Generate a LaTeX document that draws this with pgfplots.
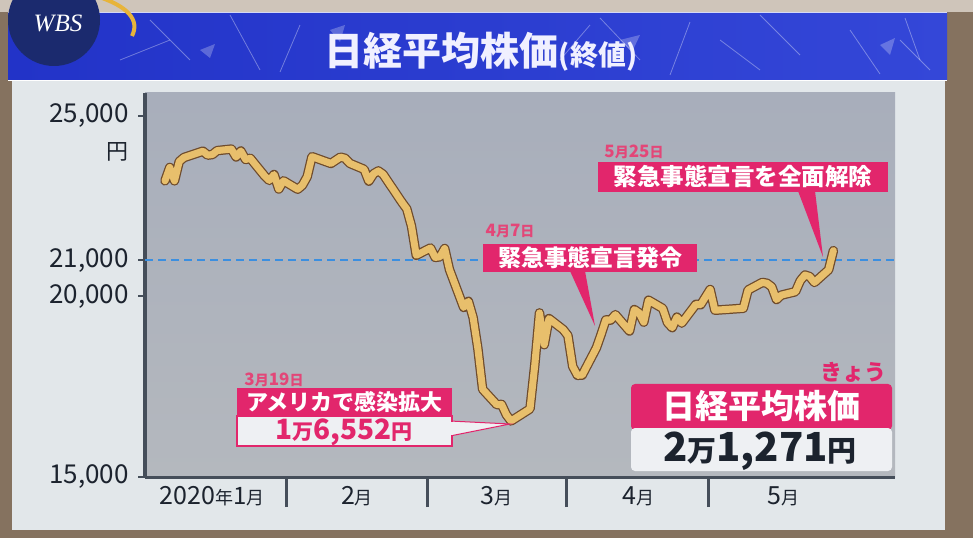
\documentclass[border=0pt]{standalone}
\usepackage{fontspec}
\setmainfont{Noto Sans CJK JP}
\newfontfamily\wbsfont{Liberation Serif}
\usepackage{pgfplots}
\pgfplotsset{compat=1.18}
\usepackage{pgfplotstable}

\definecolor{pinkc}{HTML}{E2266C}
\definecolor{datepink}{HTML}{E34678}
\definecolor{tanc}{HTML}{E8BF6C}
\definecolor{brownc}{HTML}{6E4B2C}
\definecolor{axisd}{HTML}{454E5A}
\definecolor{txtd}{HTML}{1C232E}
\definecolor{panel}{HTML}{E2E7EA}
\definecolor{plottop}{HTML}{A8AEBB}
\definecolor{plotbot}{HTML}{B4B8BE}
\definecolor{dashb}{HTML}{3B8FE0}
\definecolor{bannerA}{HTML}{2233C8}
\definecolor{bannerB}{HTML}{3447D8}
\definecolor{lightbox}{HTML}{EEF0F3}
\definecolor{framebrown}{HTML}{85725F}
\definecolor{topbeige}{HTML}{CFC5BA}
\definecolor{navy}{HTML}{1B2A6E}
\definecolor{gold}{HTML}{E7B43A}

\pgfplotstableread{
day close
6 23204
7 23575
8 23204
9 23739
10 23850
14 24025
15 23916
16 23933
17 24041
20 24083
21 23864
22 24031
23 23795
24 23827
27 23343
28 23216
29 23379
30 22977
31 23205
34 22971
35 23084
36 23320
37 23873
38 23827
41 23685
43 23861
44 23827
45 23687
48 23523
49 23194
50 23400
51 23479
52 23386
56 22605
57 22426
58 21948
59 21142
62 21344
63 21082
64 21100
65 21329
66 20749
69 19698
70 19867
71 19416
72 18559
73 17431
76 17002
77 17011
78 16726
79 16552
83 16887
84 18092
85 19546
86 18664
87 19389
90 19084
91 18917
92 18065
93 17818
94 17820
97 18576
98 18950
99 19353
100 19345
101 19498
104 19043
105 19638
106 19550
107 19290
108 19897
111 19669
112 19280
113 19137
114 19429
115 19262
118 19783
119 19771
121 20193
122 19619
128 19674
129 20179
132 20390
133 20366
134 20267
135 19915
136 20037
139 20133
140 20433
141 20595
142 20552
143 20388
146 20741
147 21271
}\nikkei

\begin{document}
\begin{tikzpicture}[x=1pt,y=1pt]
\clip (0,0) rectangle (973,538);
\begin{scope}[yshift=538pt, y=-1pt]
  \fill[framebrown] (0,0) rectangle (973,538);
  \fill[topbeige] (0,0) rectangle (973,12);
  \fill[panel] (12,80) rectangle (945,530);
  \shade[left color=bannerA, right color=bannerB] (8,13) rectangle (947,80);
  \draw[white, line width=1.5pt] (8,80.5) -- (947,80.5);
  \draw[white, line width=1pt, opacity=0.8] (8,13) -- (947,13);
  % sparkles
  \begin{scope}[white, opacity=0.35, line width=0.8pt]
    \draw (150,20) -- (190,60); \draw (230,15) -- (260,70);
    \draw (300,25) -- (280,72); \draw (600,18) -- (640,60);
    \draw (690,22) -- (670,75); \draw (760,15) -- (800,55);
    \draw (850,30) -- (880,74); \draw (905,18) -- (920,60);
    \draw (120,60) -- (170,40); \draw (720,40) -- (760,70);
    \draw (560,60) -- (590,25); \draw (930,70) -- (900,40);
  \end{scope}
  \begin{scope}[white, opacity=0.25]
    \fill (200,50) -- (215,44) -- (210,58) -- cycle;
    \fill (620,40) -- (640,35) -- (632,52) -- cycle;
    \fill (880,45) -- (895,38) -- (890,55) -- cycle;
    \fill (330,30) -- (345,25) -- (340,42) -- cycle;
  \end{scope}
  % WBS logo
  \fill[navy] (54,20) circle (46);
  \draw[gold, line width=4pt] (96,-4) .. controls (128,6) and (140,20) .. (132,36);
  \node[white, font=\wbsfont\itshape\fontsize{25}{25}\selectfont] at (58,23) {WBS};
  % title
  \node[text=white!94!blue, font=\bfseries] at (481,52)
    {\fontsize{39}{39}\selectfont 日経平均株価\fontsize{28}{28}\selectfont(終値)};
  % yen unit
  \node[text=txtd, font=\fontsize{22}{22}\selectfont] at (117,152) {円};
\end{scope}

\begin{axis}[
  at={(145pt,61pt)}, anchor=south west,
  scale only axis, width=750pt, height=384pt,
  xmin=1.78, xmax=160, ymin=15000, ymax=25637,
  scaled y ticks=false,
  axis x line*=bottom, axis y line*=left,
  x axis line style={-, line width=3pt, draw=axisd},
  y axis line style={-, line width=4pt, draw=axisd},
  axis background/.style={top color=plottop, bottom color=plotbot},
  tick align=outside,
  major tick length=7pt,
  ytick={15000,20000,21000,25000},
  yticklabels={{15,000},{20,000},{21,000},{25,000}},
  yticklabel style={font=\fontsize{26}{26}\selectfont, text=txtd, inner sep=1pt, xshift=-8pt},
  ytick style={line width=2pt, draw=axisd},
  xtick={15.9,46.5,76,105.8,136.4},
  xticklabels={{2020\fontsize{18}{18}\selectfont 年\fontsize{24}{24}\selectfont 1\fontsize{18}{18}\selectfont 月},
    {2\fontsize{18}{18}\selectfont 月},{3\fontsize{18}{18}\selectfont 月},
    {4\fontsize{18}{18}\selectfont 月},{5\fontsize{18}{18}\selectfont 月}},
  xticklabel style={font=\fontsize{25}{25}\selectfont, text=txtd, anchor=base, yshift=-20pt},
  xtick style={draw=none},
  extra x ticks={31.7,61.3,90.8,120.6},
  extra x tick labels={},
  extra x tick style={major tick length=30pt, xtick style={draw=axisd, line width=3pt}},
]
\addplot[dashb, line width=2pt, dash pattern=on 8pt off 5pt, forget plot] coordinates {(1.78,21000) (160,21000)};
\addplot[draw=brownc, line width=9.5pt, line join=round, line cap=round, no marks] table[x=day,y=close] {\nikkei};
\addplot[draw=tanc, line width=7pt, line join=round, line cap=round, no marks] table[x=day,y=close] {\nikkei};
\end{axis}

\begin{scope}[yshift=538pt, y=-1pt]
  % 3/19 callout
  \filldraw[fill=lightbox, draw=pinkc, line width=1pt] (450,421) -- (510,424) -- (450,436) -- cycle;
  \fill[pinkc] (237,388) rectangle (452,416);
  \filldraw[fill=lightbox, draw=pinkc, line width=1.2pt] (237,416) rectangle (452,446);
  \fill[lightbox] (448,421.6) rectangle (452.6,435.4);
  \node[white, font=\bfseries\fontsize{22}{22}\selectfont] at (344.5,402) {アメリカで感染拡大};
  \node[text=pinkc, font=\bfseries\fontsize{28}{28}\selectfont] at (344,432)
     {1\fontsize{21}{21}\selectfont 万\fontsize{28}{28}\selectfont 6,552\fontsize{21}{21}\selectfont 円};
  \node[text=datepink, font=\bfseries\fontsize{17}{17}\selectfont] at (274,380)
     {3\fontsize{14}{14}\selectfont 月\fontsize{17}{17}\selectfont 19\fontsize{14}{14}\selectfont 日};
  % 4/7 callout
  \fill[pinkc] (570,271) -- (595,326) -- (585,271) -- cycle;
  \fill[pinkc] (483,244) rectangle (697,272);
  \node[white, font=\bfseries\fontsize{23}{23}\selectfont] at (590,258) {緊急事態宣言発令};
  \node[text=datepink, font=\bfseries\fontsize{17}{17}\selectfont] at (510,231)
     {4\fontsize{14}{14}\selectfont 月\fontsize{17}{17}\selectfont 7\fontsize{14}{14}\selectfont 日};
  % 5/25 callout
  \fill[pinkc] (798,191) -- (823,257) -- (815,191) -- cycle;
  \fill[pinkc] (598,162) rectangle (888,192);
  \node[white, font=\bfseries\fontsize{23.5}{23.5}\selectfont] at (743,177) {緊急事態宣言を全面解除};
  \node[text=datepink, font=\bfseries\fontsize{17}{17}\selectfont] at (634,152)
     {5\fontsize{14}{14}\selectfont 月\fontsize{17}{17}\selectfont 25\fontsize{14}{14}\selectfont 日};
  % today box
  \node[text=pinkc, font=\bfseries\fontsize{22}{22}\selectfont] at (853,372) {きょう};
  \fill[pinkc, rounded corners=4pt] (631,384) rectangle (892,430);
  \fill[lightbox, rounded corners=4pt] (631,428) rectangle (892,471);
  \node[white, font=\bfseries\fontsize{33}{33}\selectfont] at (761,406) {日経平均株価};
  \node[text=txtd, font=\bfseries\fontsize{40}{40}\selectfont] at (760,451)
     {2\fontsize{29}{29}\selectfont 万\fontsize{40}{40}\selectfont 1,271\fontsize{29}{29}\selectfont 円};
\end{scope}
\end{tikzpicture}
\end{document}
